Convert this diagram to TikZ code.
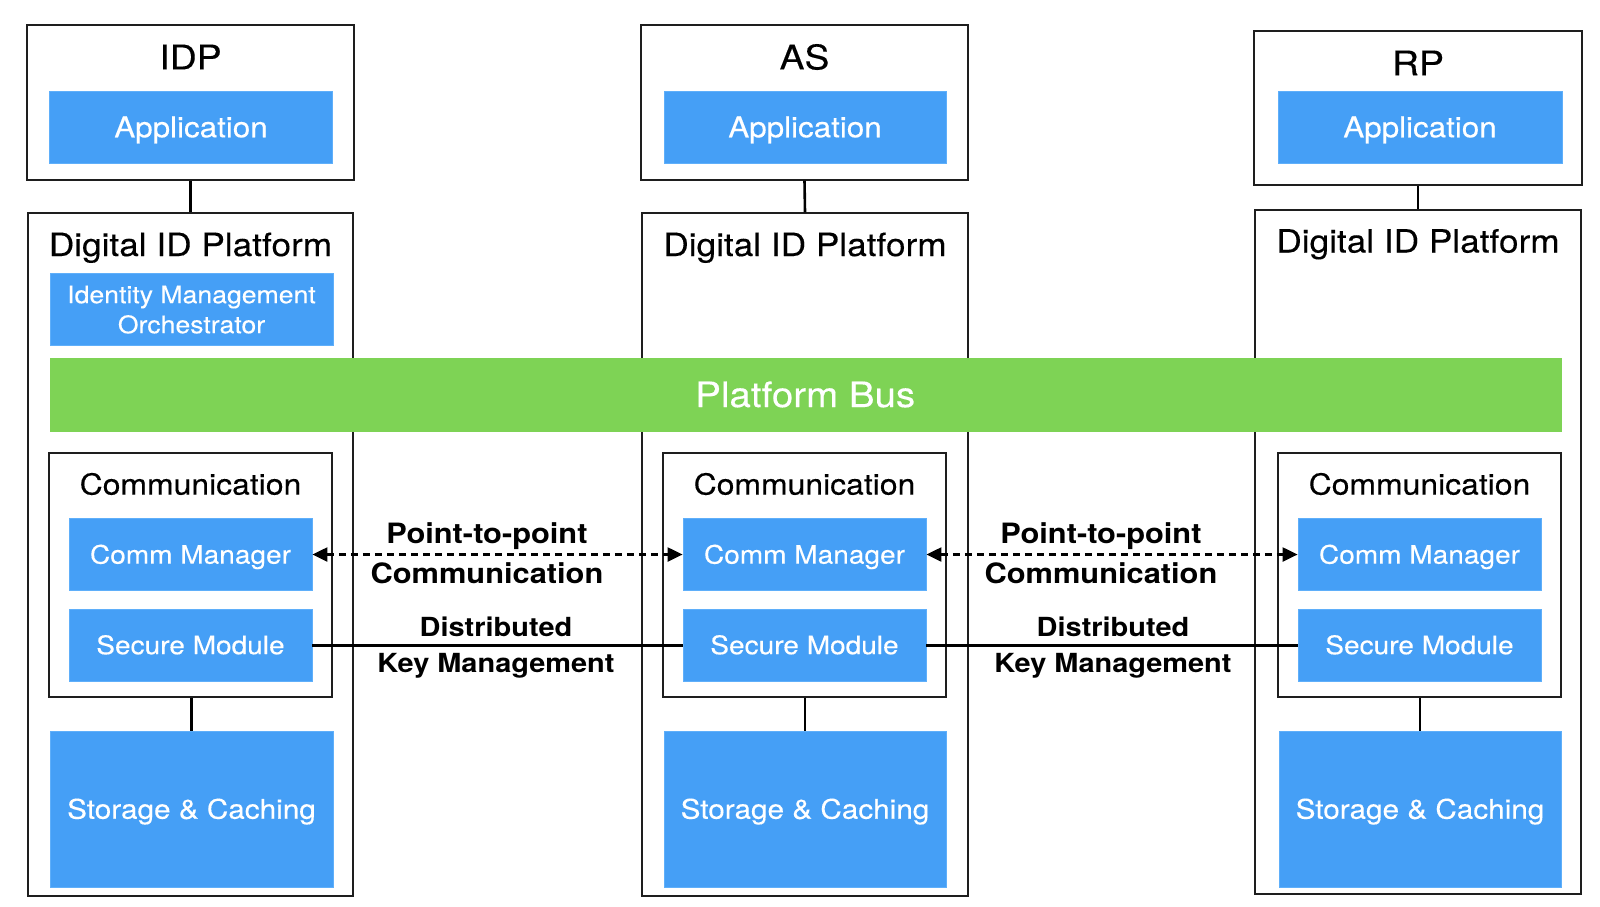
\documentclass[tikz,border=0pt]{standalone}
\usepackage{fontspec}
\setmainfont{TeX Gyre Heros}[FakeStretch=1.1, UprightFeatures={FakeBold=0.25}]
\usetikzlibrary{arrows.meta}
\definecolor{boxblue}{RGB}{69,159,246}
\definecolor{boxblueline}{RGB}{95,175,250}
\definecolor{busgreen}{RGB}{126,211,85}
\definecolor{frameline}{RGB}{30,30,30}
\newcommand{\fsz}[2]{\fontsize{#1}{#2}\selectfont}
\tikzset{
  frame/.style={draw=frameline, line width=1.4pt, fill=white, inner sep=0pt},
  bluebox/.style={fill=boxblue, draw=boxblueline, line width=0.8pt, text=white, inner sep=0pt, align=center},
  plain/.style={inner sep=0pt, align=center, text=black},
  capt/.style={text height=#1, text depth=0pt},
  vlink/.style={draw=black, line width=2.6pt},
  p2p/.style={draw=black, line width=2.2pt, dash pattern=on 7pt off 5pt, {Triangle[length=15pt,width=14pt]}-{Triangle[length=15pt,width=14pt]}},
  keyline/.style={draw=black, line width=3pt}
}
\begin{document}
\begin{tikzpicture}[x=1pt,y=-1pt]
\useasboundingbox (0,0) rectangle (1600,906);
\fill[white] (0,0) rectangle (1600,906);

% ---------- top boxes ----------
\node[frame, minimum width=327pt, minimum height=155pt] (idpbox) at (190.5,102.5) {};
\node[frame, minimum width=327pt, minimum height=155pt] (asbox) at (804.5,102.5) {};
\node[frame, minimum width=328pt, minimum height=154pt] (rpbox) at (1418,108) {};
\node[plain, font=\fsz{34}{40}] (idptitle) at (190.5,57) {IDP};
\node[plain, font=\fsz{34}{40}] (astitle) at (804.5,57) {AS};
\node[plain, font=\fsz{34}{40}] (rptitle) at (1418,63) {RP};
\node[bluebox, capt=20.5pt, minimum width=283pt, minimum height=72pt, font=\fsz{28.5}{34}] (idpapp) at (191,127) {Application};
\node[bluebox, capt=20.5pt, minimum width=282pt, minimum height=72pt, font=\fsz{28.5}{34}] (asapp) at (805,127) {Application};
\node[bluebox, capt=20.5pt, minimum width=284pt, minimum height=72pt, font=\fsz{28.5}{34}] (rpapp) at (1420,127) {Application};

% ---------- platform boxes ----------
\node[frame, minimum width=325pt, minimum height=683pt] (idpdip) at (190.5,554.5) {};
\node[frame, minimum width=326pt, minimum height=683pt] (asdip) at (805,554.5) {};
\node[frame, minimum width=326pt, minimum height=684pt] (rpdip) at (1418,552) {};
\draw[vlink] (idpbox.south) -- (idpdip.north);
\draw[vlink] (asbox.south) -- (asdip.north);
\draw[vlink] (rpbox.south) -- (rpdip.north);
\node[plain, capt=23pt, font=\fsz{32}{38}] (idpdiptitle) at (190.5,244.5) {Digital ID Platform};
\node[plain, capt=23pt, font=\fsz{32}{38}] (asdiptitle) at (805,244.5) {Digital ID Platform};
\node[plain, capt=23pt, font=\fsz{32}{38}] (rpdiptitle) at (1418,241) {Digital ID Platform};

\node[bluebox, capt=47.4pt, minimum width=283pt, minimum height=72pt, font=\fsz{24.2}{30}] (imo) at (191.5,309.5) {Identity Management\\Orchestrator};

% ---------- bus ----------
\node[fill=busgreen, draw=busgreen, inner sep=0pt, minimum width=1511pt, minimum height=73pt, text=white, font=\fsz{35}{40}] (bus) at (805.25,394.5) {Platform Bus};

% ---------- communication boxes ----------
\node[frame, minimum width=283pt, minimum height=244pt] (idpcomm) at (190.5,575) {};
\node[frame, minimum width=283pt, minimum height=244pt] (ascomm) at (804.5,575) {};
\node[frame, minimum width=283pt, minimum height=244pt] (rpcomm) at (1419.5,575) {};
\node[plain, font=\fsz{29}{34}] (idpcommtitle) at (190.5,484) {Communication};
\node[plain, font=\fsz{29}{34}] (ascommtitle) at (804.5,484) {Communication};
\node[plain, font=\fsz{29}{34}] (rpcommtitle) at (1419.5,484) {Communication};

\node[bluebox, capt=18.3pt, minimum width=243pt, minimum height=72pt, font=\fsz{25.5}{30}] (idpcm) at (190.5,554.5) {Comm Manager};
\node[bluebox, capt=18.3pt, minimum width=243pt, minimum height=72pt, font=\fsz{25.5}{30}] (ascm) at (804.5,554.5) {Comm Manager};
\node[bluebox, capt=18.3pt, minimum width=243pt, minimum height=72pt, font=\fsz{25.5}{30}] (rpcm) at (1419.5,554.5) {Comm Manager};
\node[bluebox, capt=18.3pt, minimum width=243pt, minimum height=72pt, font=\fsz{25.5}{30}] (idpsm) at (190.5,645) {Secure Module};
\node[bluebox, capt=18.3pt, minimum width=243pt, minimum height=72pt, font=\fsz{25.5}{30}] (assm) at (804.5,645) {Secure Module};
\node[bluebox, capt=18.3pt, minimum width=243pt, minimum height=72pt, font=\fsz{25.5}{30}] (rpsm) at (1419.5,645) {Secure Module};

% ---------- storage ----------
\node[bluebox, capt=19.4pt, minimum width=283pt, minimum height=156pt, font=\fsz{27}{32}] (idpstore) at (191.5,809) {Storage \& Caching};
\node[bluebox, capt=19.4pt, minimum width=282pt, minimum height=156pt, font=\fsz{27}{32}] (asstore) at (805,809) {Storage \& Caching};
\node[bluebox, capt=19.4pt, minimum width=282pt, minimum height=156pt, font=\fsz{27}{32}] (rpstore) at (1420,809) {Storage \& Caching};
\draw[vlink] (idpcomm.south -| idpstore.north) -- (idpstore.north);
\draw[vlink] (ascomm.south -| asstore.north) -- (asstore.north);
\draw[vlink] (rpcomm.south -| rpstore.north) -- (rpstore.north);

% ---------- links between platforms ----------
\draw[p2p] (idpcm.east) -- (ascm.west);
\draw[p2p] (ascm.east) -- (rpcm.west);
\draw[keyline] (idpsm.east) -- (assm.west);
\draw[keyline] (assm.east) -- (rpsm.west);

\node[plain, capt=60.1pt, font=\bfseries\fsz{28}{40}] (p2plabA) at (487,553) {Point-to-point\\Communication};
\node[plain, capt=60.1pt, font=\bfseries\fsz{28}{40}] (p2plabB) at (1101,553) {Point-to-point\\Communication};
\node[plain, capt=54.9pt, font=\bfseries\fsz{26.3}{36}] (keylabA) at (496,645.5) {Distributed\\Key Management};
\node[plain, capt=54.9pt, font=\bfseries\fsz{26.3}{36}] (keylabB) at (1113,645.5) {Distributed\\Key Management};
\end{tikzpicture}
\end{document}
